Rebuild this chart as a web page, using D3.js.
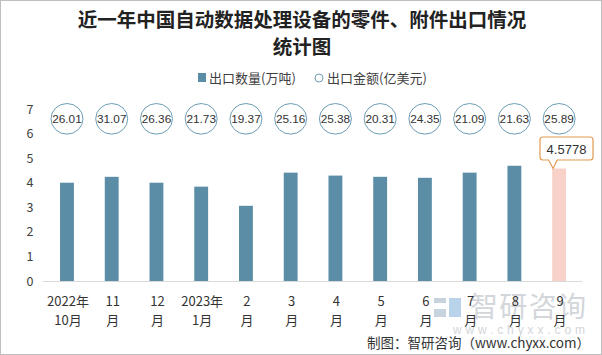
<!DOCTYPE html>
<html><head><meta charset="utf-8">
<script src="https://cdn.jsdelivr.net/npm/d3@7"></script>
<style>html,body{margin:0;padding:0;background:#fff;}svg{display:block;}</style>
</head><body>
<script>
const monthLine1 = ["2022年","11","12","2023年","2","3","4","5","6","7","8","9"];
const monthLine2 = ["10月","月","月","1月","月","月","月","月","月","月","月","月"];
const quantity = [4.00, 4.24, 4.00, 3.84, 3.06, 4.41, 4.29, 4.24, 4.20, 4.41, 4.69, 4.5778];
const amount = ["26.01","31.07","26.36","21.73","19.37","25.16","25.38","20.31","24.35","21.09","21.63","25.89"];
const yTicks = [0,1,2,3,4,5,6,7];
const titleLines = ["近一年中国自动数据处理设备的零件、附件出口情况","统计图"];
const legendNames = ["出口数量(万吨)","出口金额(亿美元)"];
const sourceText = "制图：智研咨询（www.chyxx.com）";

const W = 602, H = 355;
const cjk = "'Noto Sans CJK SC','Microsoft YaHei',sans-serif";
const svg = d3.select("body").append("svg").attr("width", W).attr("height", H);

svg.append("rect").attr("x",0.5).attr("y",0.5).attr("width",W-1).attr("height",H-1)
  .attr("fill","#fff").attr("stroke","#bfbfbf");

// title
svg.append("g").selectAll("text").data(titleLines).join("text")
  .attr("x", 302).attr("y", (d,i)=> 27 + i*27)
  .attr("text-anchor","middle").attr("font-family", cjk).attr("font-weight","bold")
  .attr("font-size", 19.5).attr("fill","#222").text(d=>d);

// legend
const lg = svg.append("g").attr("font-family", cjk).attr("font-size", 13).attr("fill","#404040");
lg.append("rect").attr("x",198).attr("y",73).attr("width",8).attr("height",9).attr("fill","#5b8ea6");
lg.append("text").attr("x",209).attr("y",82.5).text(legendNames[0]);
lg.append("circle").attr("cx",319).attr("cy",78).attr("r",4).attr("fill","none").attr("stroke","#6d9db5").attr("stroke-width",1);
lg.append("text").attr("x",327).attr("y",82.5).text(legendNames[1]);

// scales
const x = d3.scaleBand().domain(d3.range(quantity.length)).range([44.6, 581.5])
  .paddingInner(0.69).paddingOuter(0.345);
const y = d3.scaleLinear().domain([0,7]).range([281, 109]);
const cx = i => x(i) + x.bandwidth()/2;

// y tick labels
svg.append("g").selectAll("text").data(yTicks).join("text")
  .attr("x", 30).attr("y", d=>y(d)+4.5).attr("text-anchor","middle")
  .attr("font-family", cjk).attr("font-size", 12.5).attr("fill","#404040").text(d=>d);

// baseline
svg.append("line").attr("x1",43).attr("x2",582).attr("y1",y(0)+0.5).attr("y2",y(0)+0.5)
  .attr("stroke","#d9d9d9");

// bars
svg.append("g").selectAll("rect").data(quantity).join("rect")
  .attr("x",(d,i)=>x(i)).attr("width",x.bandwidth())
  .attr("y",d=>y(d)).attr("height",d=>y(0)-y(d))
  .attr("fill",(d,i)=> i===quantity.length-1 ? "#f8d1c9" : "#5b8ea6");

// amount circles
const cg = svg.append("g");
const circleY = y(6.6);
cg.selectAll("ellipse").data(amount).join("ellipse")
  .attr("cx",(d,i)=>cx(i)).attr("cy",circleY).attr("rx",16).attr("ry",15.3)
  .attr("fill","#fff").attr("stroke","#6d9db5").attr("stroke-width",1);
cg.selectAll("text").data(amount).join("text")
  .attr("x",(d,i)=>cx(i)).attr("y",circleY+4.2).attr("text-anchor","middle")
  .attr("font-family","'Liberation Sans',Arial,sans-serif").attr("font-size",11.8).attr("fill","#333")
  .text(d=>d);

// callout for last bar
const li = quantity.length-1;
const tipX = cx(li) - 6, tipY = y(quantity[li]);
const bx0 = 540, bx1 = 593, by0 = 137, by1 = 160, r = 3;
const p = d3.path();
p.moveTo(bx0+r, by0);
p.lineTo(bx1-r, by0); p.quadraticCurveTo(bx1, by0, bx1, by0+r);
p.lineTo(bx1, by1-r); p.quadraticCurveTo(bx1, by1, bx1-r, by1);
p.lineTo(tipX+4, by1); p.lineTo(tipX, tipY); p.lineTo(tipX-4.5, by1);
p.lineTo(bx0+r, by1); p.quadraticCurveTo(bx0, by1, bx0, by1-r);
p.lineTo(bx0, by0+r); p.quadraticCurveTo(bx0, by0, bx0+r, by0);
p.closePath();
svg.append("path").attr("d", p.toString()).attr("fill","#fff").attr("stroke","#e39a50").attr("stroke-width",1.2);
svg.append("text").attr("x",(bx0+bx1)/2).attr("y",153.5).attr("text-anchor","middle")
  .attr("font-family","'Liberation Sans',Arial,sans-serif").attr("font-size",13).attr("fill","#333")
  .text(quantity[li].toFixed(4));

// watermark
const wm = svg.append("g").attr("fill","#d3d6da");
wm.append("rect").attr("x",434).attr("y",298).attr("width",12).attr("height",5).attr("fill","#c9d3dd");
wm.append("rect").attr("x",434).attr("y",309).attr("width",12).attr("height",8).attr("fill","#c9d3dd");
wm.append("rect").attr("x",449).attr("y",298).attr("width",12).attr("height",19).attr("fill","#b9d3ea");
wm.append("text").attr("x",470).attr("y",317).attr("font-family",cjk).attr("font-size",28)
  .attr("textLength",116).text("智研咨询");
wm.append("text").attr("x",453).attr("y",334).attr("font-family","'Liberation Sans',Arial,sans-serif")
  .attr("font-size",12).attr("textLength",132).text("www.chyxx.com");

// x labels
const xl = svg.append("g").attr("font-family", cjk).attr("font-size",13).attr("fill","#333").attr("text-anchor","middle");
xl.selectAll("text.l1").data(monthLine1).join("text").attr("class","l1")
  .attr("x",(d,i)=>cx(i)+1).attr("y",306).text(d=>d);
xl.selectAll("text.l2").data(monthLine2).join("text").attr("class","l2")
  .attr("x",(d,i)=>cx(i)+1).attr("y",325).text(d=>d);

// source
svg.append("text").attr("x",590).attr("y",348).attr("text-anchor","end")
  .attr("font-family","'Noto Sans CJK SC',sans-serif").attr("font-size",13.5).attr("fill","#333")
  .text(sourceText);
</script>
</body></html>
